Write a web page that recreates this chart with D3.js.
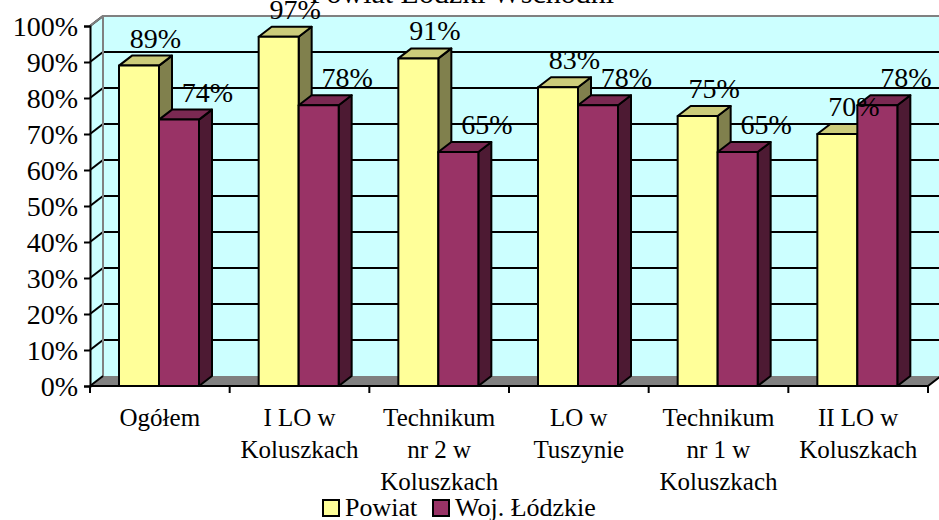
<!DOCTYPE html>
<html>
<head>
<meta charset="utf-8">
<script src="https://cdn.jsdelivr.net/npm/d3@7"></script>
<style>
  body { margin: 0; background: #fff; }
  text { font-family: "Liberation Serif", "Times New Roman", serif; fill: #000; }
</style>
</head>
<body>
<script>
const title = 'Powiat Łódzki Wschodni';
const categories = ['Ogółem', 'I LO w Koluszkach', 'Technikum nr 2 w Koluszkach',
  'LO w Tuszynie', 'Technikum nr 1 w Koluszkach', 'II LO w Koluszkach'];
const seriesNames = ['Powiat', 'Woj. Łódzkie'];
const powiat = [0.89, 0.97, 0.91, 0.83, 0.75, 0.70];
const wojewodztwo = [0.74, 0.78, 0.65, 0.78, 0.65, 0.78];
const yTicks = [0, 0.1, 0.2, 0.3, 0.4, 0.5, 0.6, 0.7, 0.8, 0.9, 1];

const w = 939;
const h = 520;
const depth = { dx: 13, dy: -10 };
const colors = {
  Powiat: { front: '#ffff99', top: '#cccc7a', side: '#80804d' },
  'Woj. Łódzkie': { front: '#993366', top: '#7a2952', side: '#4d1a33' },
};

const data = categories.map((c, i) => ({ cat: c, values: [
  { s: seriesNames[0], v: powiat[i] },
  { s: seriesNames[1], v: wojewodztwo[i] },
]}));

const svg = d3.select('body').append('svg')
  .attr('width', w).attr('height', h);

// scales
const xScale = d3.scaleBand().domain(categories).range([90, 928]);
const inner = d3.scaleBand().domain(seriesNames).range([29, 109]);
const yScale = d3.scaleLinear().domain([0, 1]).range([386, 26]);
const x0 = xScale.range()[0], x1 = xScale.range()[1];
const yb = yScale(0), yt = yScale(1);

// walls
svg.append('polygon')
  .attr('points', [[x0, yb], [x0, yt], [x0 + depth.dx, yt + depth.dy], [x0 + depth.dx, yb + depth.dy]].join(' '))
  .attr('fill', '#ccffff');
svg.append('rect')
  .attr('x', x0 + depth.dx).attr('y', yt + depth.dy)
  .attr('width', w - x0 - depth.dx + 5).attr('height', yb - yt)
  .attr('fill', '#ccffff');

// floor
svg.append('polygon')
  .attr('points', [[x0, yb], [x1, yb], [x1 + depth.dx, yb + depth.dy], [x0 + depth.dx, yb + depth.dy]].join(' '))
  .attr('fill', '#808080');

// gridlines (back wall + side wall)
const grid = svg.append('g').attr('stroke', '#000').attr('stroke-width', 2);
grid.selectAll('line.back').data(yTicks.slice(1)).enter().append('line')
  .attr('x1', x0 + depth.dx).attr('x2', w + 2)
  .attr('y1', (d) => yScale(d) + depth.dy).attr('y2', (d) => yScale(d) + depth.dy);
grid.selectAll('line.side').data(yTicks.slice(1)).enter().append('line')
  .attr('x1', x0).attr('x2', x0 + depth.dx)
  .attr('y1', (d) => yScale(d)).attr('y2', (d) => yScale(d) + depth.dy);

// wall edges
svg.append('path')
  .attr('d', `M${x0},${yt}L${x0 + depth.dx},${yt + depth.dy}L${w + 2},${yt + depth.dy}M${x0 + depth.dx},${yt + depth.dy}L${x0 + depth.dx},${yb + depth.dy}`)
  .attr('stroke', '#808080').attr('stroke-width', 2).attr('fill', 'none');
svg.append('path')
  .attr('d', `M${x0},${yb}L${x0 + depth.dx},${yb + depth.dy}M${x1},${yb}L${x1 + depth.dx},${yb + depth.dy}`)
  .attr('stroke', '#000').attr('stroke-width', 2).attr('fill', 'none');

// y axis
const yAxis = d3.axisLeft(yScale).tickValues(yTicks).tickFormat(d3.format('.0%'))
  .tickSize(6).tickPadding(6);
const gy = svg.append('g').attr('transform', `translate(${x0},0)`).call(yAxis);
gy.select('.domain').attr('stroke-width', 2);
gy.selectAll('.tick line').attr('stroke-width', 2);
gy.selectAll('.tick text').attr('font-size', 28).attr('font-family', 'Liberation Serif')
  .attr('dy', '0.34em');

// x axis line + ticks
svg.append('line').attr('x1', x0).attr('x2', x1).attr('y1', yb).attr('y2', yb)
  .attr('stroke', '#000').attr('stroke-width', 2);
const bounds = categories.map((c) => xScale(c)).concat([x1]);
svg.selectAll('line.xtick').data(bounds).enter().append('line')
  .attr('x1', (d) => d).attr('x2', (d) => d)
  .attr('y1', yb).attr('y2', yb + 7)
  .attr('stroke', '#000').attr('stroke-width', 2);

// category labels with wrapping
const labels = svg.append('g').selectAll('text').data(categories).enter().append('text')
  .attr('x', (d) => xScale(d) + xScale.bandwidth() / 2)
  .attr('y', 426)
  .attr('text-anchor', 'middle')
  .attr('font-size', 25);
labels.each(function (d) {
  const t = d3.select(this);
  const words = d.split(' ');
  let line = [];
  let tspan = t.append('tspan').attr('x', t.attr('x')).attr('dy', 0);
  words.forEach((wd) => {
    line.push(wd);
    tspan.text(line.join(' '));
    if (tspan.node().getComputedTextLength() > 134 && line.length > 1) {
      line.pop();
      tspan.text(line.join(' '));
      line = [wd];
      tspan = t.append('tspan').attr('x', t.attr('x')).attr('dy', 32).text(wd);
    }
  });
});

// 3D bars
const bw = inner.bandwidth();
const bars = svg.append('g');
data.forEach((d) => {
  d.values.forEach((s) => {
    const bx = xScale(d.cat) + inner(s.s);
    const by = yScale(s.v);
    const c = colors[s.s];
    const g = bars.append('g').attr('stroke', '#000').attr('stroke-width', 2)
      .attr('stroke-linejoin', 'round');
    g.append('polygon')
      .attr('points', [[bx + bw, by], [bx + bw + depth.dx, by + depth.dy], [bx + bw + depth.dx, yb + depth.dy], [bx + bw, yb]].join(' '))
      .attr('fill', c.side);
    g.append('polygon')
      .attr('points', [[bx, by], [bx + depth.dx, by + depth.dy], [bx + bw + depth.dx, by + depth.dy], [bx + bw, by]].join(' '))
      .attr('fill', c.top);
    g.append('rect')
      .attr('x', bx).attr('y', by).attr('width', bw).attr('height', yb - by)
      .attr('fill', c.front);
  });
});

// value labels
const labelShift = { Powiat: 10, 'Woj. Łódzkie': 22 };
data.forEach((d) => {
  d.values.forEach((s) => {
    svg.append('text')
      .attr('x', xScale(d.cat) + inner(s.s) + (bw + depth.dx) / 2 + labelShift[s.s])
      .attr('y', yScale(s.v) + depth.dy - 8)
      .attr('text-anchor', 'middle')
      .attr('font-size', 28)
      .text(d3.format('.0%')(s.v));
  });
});

// title (mostly cut off at the top)
svg.append('text')
  .attr('x', 462).attr('y', 3)
  .attr('text-anchor', 'middle')
  .attr('font-size', 30)
  .text(title);

// legend
const legend = svg.append('g').attr('transform', 'translate(323,500)');
const legX = [0, 110];
seriesNames.forEach((s, i) => {
  legend.append('rect').attr('x', legX[i]).attr('y', 0).attr('width', 16).attr('height', 16)
    .attr('fill', colors[s].front).attr('stroke', '#000').attr('stroke-width', 2);
  legend.append('text').attr('x', legX[i] + 22).attr('y', 16)
    .attr('font-size', 26).text(s);
});
</script>
</body>
</html>
